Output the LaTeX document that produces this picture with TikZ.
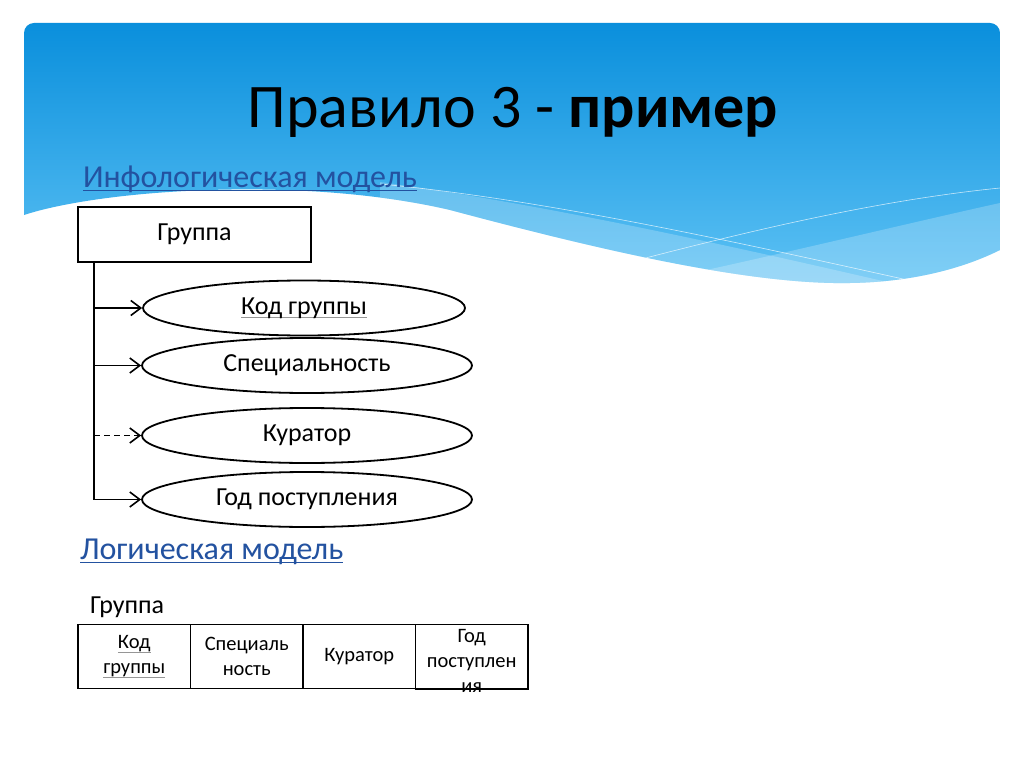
\documentclass[tikz,border=0pt]{standalone}
\usepackage{fontspec}
\setmainfont{Carlito}
\usetikzlibrary{shapes.geometric,arrows.meta}
\definecolor{bluetop}{RGB}{10,143,220}
\definecolor{bluebot}{RGB}{95,195,245}
\definecolor{headblue}{RGB}{35,82,160}
\definecolor{ulgray}{RGB}{150,150,150}
\newcommand{\grayul}[1]{\setbox0\hbox{#1}\rlap{\color{ulgray}\rule[-4pt]{\wd0}{1pt}}\box0}
\tikzset{
  x=1pt,y=-1pt,
  txt/.style={inner sep=0pt,outer sep=0pt},
  entity/.style={draw,line width=1.8pt,rectangle,minimum width=233pt,minimum height=55pt,inner sep=0pt,font=\fontsize{26}{30}\selectfont},
  attr/.style={draw,line width=1.8pt,ellipse,inner sep=0pt,minimum height=55pt,font=\fontsize{26}{30}\selectfont},
  conn/.style={line width=1.6pt,-{Straight Barb[length=10pt,width=15pt,line width=1.6pt]}},
  cell/.style={draw,line width=1.8pt,rectangle,minimum width=112.5pt,minimum height=64pt,inner sep=0pt},
  celltxt/.style={inner sep=0pt,align=center,font=\fontsize{20.5}{25}\selectfont},
}
\begin{document}
\begin{tikzpicture}
\useasboundingbox (0,0) rectangle (1024,767);
\fill[white] (0,0) rectangle (1024,767);
% header background
\begin{scope}
\path[clip] (24,215) -- (24,33) arc[start angle=180,end angle=270,radius=10] -- (990,23)
  arc[start angle=270,end angle=360,radius=10] -- (1000,250)
  .. controls (970,265) and (920,282) .. (850,283)
  .. controls (750,285) and (600,250) .. (450,210)
  .. controls (300,175) and (100,190) .. (24,215) -- cycle;
\shade[top color=bluetop,bottom color=bluebot] (24,23) rectangle (1000,290);
\fill[white,opacity=0.22] (380,182) .. controls (550,205) and (750,250) .. (930,292) -- (930,300) -- (380,300) -- cycle;
\fill[white,opacity=0.22] (1000,203) .. controls (900,225) and (750,262) .. (590,295) -- (1000,300) -- cycle;
\draw[white,opacity=0.7,line width=0.6pt] (380,184) .. controls (550,200) and (750,245) .. (930,285);
\draw[white,opacity=0.7,line width=0.6pt] (1000,188) .. controls (880,200) and (750,230) .. (600,270);
\end{scope}
% title
\node[txt,anchor=base] (title) at (513,128) {\fontsize{62}{70}\selectfont Правило 3 - \textbf{пример}};
% infological model
\node[txt,anchor=base west,text=headblue] (h1) at (83,188) {\fontsize{32}{36}\selectfont Инфологическая модель};
\draw[headblue,line width=1pt] ([yshift=-3pt]h1.base west) -- ([yshift=-3pt]h1.base east);
\node[entity] (grp) at (194.5,234.5) {Группа};
\node[attr,minimum width=322pt] (e1) at (304,308) {\grayul{Код группы}};
\node[attr,minimum width=330pt] (e2) at (307,365.5) {Специальность};
\node[attr,minimum width=330pt] (e3) at (307,435.5) {Куратор};
\node[attr,minimum width=330pt] (e4) at (307,499.5) {Год поступления};
\coordinate (spine) at (94,262);
\draw[line width=1.6pt] (spine) |- (e4.west);
\draw[conn] (spine |- e1.west) -- (e1.west);
\draw[conn] (spine |- e2.west) -- (e2.west);
\draw[conn,dashed,dash pattern=on 6pt off 4pt] (spine |- e3.west) -- (e3.west);
\draw[conn] (spine |- e4.west) -- (e4.west);
% logical model
\node[txt,anchor=base west,text=headblue] (h2) at (80,559) {\fontsize{32}{36}\selectfont Логическая модель};
\draw[headblue,line width=1pt] ([yshift=-3pt]h2.base west) -- ([yshift=-3pt]h2.base east);
\node[txt,anchor=base west] (tname) at (90,613) {\fontsize{26}{30}\selectfont Группа};
\node[cell] (c1) at (134.25,656.5) {};
\node[cell] (c2) at (246.75,656.5) {};
\node[cell] (c3) at (359.25,656.5) {};
\node[cell] (c4) at (471.75,656.5) {};
\node[celltxt] (t1) at (c1) {\grayul{Код}\\\grayul{группы}};
\node[celltxt] (t2) at (c2) {Специаль\\ность};
\node[celltxt] (t3) at (c3) {Куратор};
\node[celltxt] (t4) at ([yshift=-4pt]c4.center) {Год\\поступлен\\ия};
\draw[line width=1.8pt] (c4.south west) -- (c4.south east);
\end{tikzpicture}
\end{document}
